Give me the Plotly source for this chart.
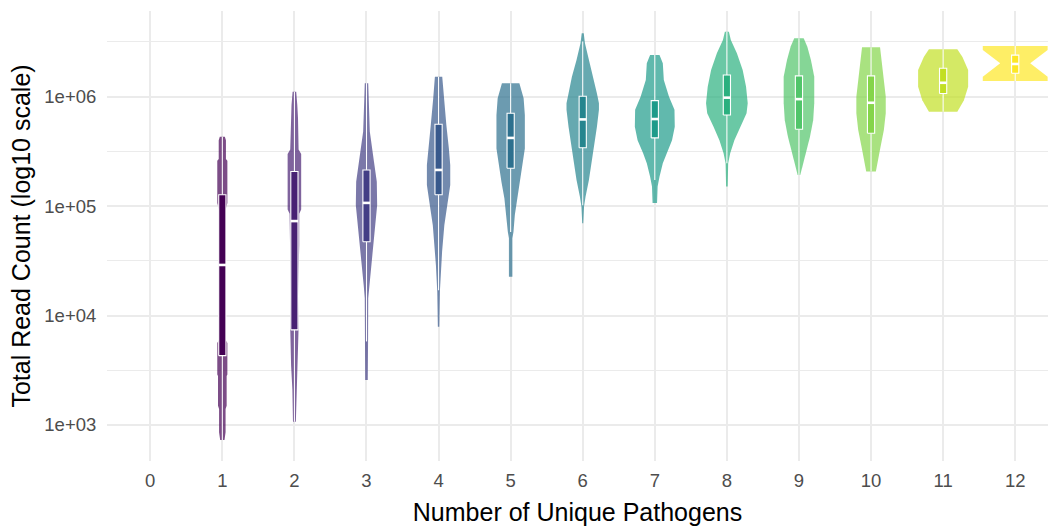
import plotly.graph_objects as go

# ---------------- data ----------------
x_categories = list(range(0, 13))
groups = list(range(1, 13))
colors = ["#440154", "#482173", "#433E85", "#38598C", "#2D708E", "#25858E",
          "#1E9B8A", "#2BB07F", "#51C56A", "#85D54A", "#C2DF23", "#FDE725"]

q1_vals = [4.3e3, 7.4e3, 4.73e4, 1.27e5, 2.22e5, 3.42e5, 4.2e5, 6.8e5, 5.04e5, 4.63e5, 1.07e6, 1.64e6]
median_vals = [2.9e4, 7.3e4, 1.07e5, 2.14e5, 4.2e5, 6.2e5, 6.25e5, 9.8e5, 9.5e5, 8.8e5, 1.34e6, 1.99e6]
q3_vals = [1.27e5, 2.07e5, 2.14e5, 5.6e5, 7.05e5, 1.01e6, 9.2e5, 1.58e6, 1.55e6, 1.55e6, 1.82e6, 2.4e6]
whisker_low = [7.3e2, 1.07e3, 5.8e3, 1.7e4, 5.8e4, 1.02e5, 1.73e5, 2.46e5, 1.92e5, 2.07e5, 7.3e5, 1.39e6]
whisker_high = [4.3e5, 1.11e6, 1.33e6, 1.52e6, 1.33e6, 3.2e6, 2.4e6, 3.93e6, 3.42e6, 2.83e6, 2.71e6, 2.9e6]

# violin density profiles: read-count levels and half-widths (category units)
violin_levels = {
    1: [7.3e2, 8.6e2, 1.4e3, 1.5e3, 2.8e3, 2.9e3, 5.6e3, 6.0e3, 9.2e4, 1.07e5, 2.6e5, 2.7e5, 4.0e5, 4.3e5],
    2: [1.07e3, 2.1e3, 3.5e3, 7.7e3, 1.5e4, 4.4e4, 8.5e4, 9.3e4, 3.0e5, 3.3e5, 6.35e5, 8.4e5, 1.11e6],
    3: [2.58e3, 5.8e3, 1.44e4, 1.9e4, 2.52e4, 3.84e4, 6.7e4, 1.02e5, 1.67e5, 2.55e5, 4.8e5, 9.7e5, 1.33e6],
    4: [7.9e3, 1.65e4, 2.9e4, 3.84e4, 6.7e4, 1.02e5, 1.56e5, 2.38e5, 3.37e5, 5.5e5, 9.7e5, 1.52e6],
    5: [2.26e4, 5.1e4, 5.8e4, 8.3e4, 1.18e5, 1.67e5, 2.38e5, 3.37e5, 6.8e5, 9.7e5, 1.33e6],
    6: [6.97e4, 9.9e4, 1.22e5, 1.73e5, 2.46e5, 3.49e5, 5.3e5, 7.6e5, 8.7e5, 1.07e6, 1.52e6, 2.16e6, 3.08e6, 3.8e6],
    7: [1.07e5, 1.51e5, 1.86e5, 2.46e5, 3.04e5, 4.0e5, 5.3e5, 7.6e5, 1.0e6, 1.42e6, 2.02e6, 2.4e6],
    8: [1.51e5, 2.46e5, 3.04e5, 4.0e5, 5.3e5, 7.05e5, 8.7e5, 1.23e6, 1.75e6, 2.49e6, 3.3e6, 3.93e6],
    9: [1.92e5, 2.29e5, 3.04e5, 4.3e5, 6.1e5, 8.7e5, 1.52e6, 2.16e6, 2.87e6, 3.42e6],
    10: [2.07e5, 2.46e5, 3.49e5, 4.97e5, 7.05e5, 1.0e6, 1.64e6, 2.83e6],
    11: [7.3e5, 9.3e5, 1.23e6, 1.75e6, 2.32e6, 2.71e6],
    12: [1.39e6, 1.52e6, 2.02e6, 2.67e6, 2.9e6],
}
violin_halfwidths = {
    1: [0.03, 0.045, 0.045, 0.06, 0.06, 0.07, 0.07, 0.045, 0.045, 0.07, 0.07, 0.05, 0.05, 0.035],
    2: [0.02, 0.028, 0.046, 0.058, 0.05, 0.067, 0.067, 0.094, 0.094, 0.058, 0.05, 0.04, 0.025],
    3: [0.018, 0.022, 0.024, 0.039, 0.058, 0.087, 0.121, 0.148, 0.143, 0.104, 0.046, 0.03, 0.024],
    4: [0.01, 0.018, 0.037, 0.049, 0.08, 0.121, 0.162, 0.162, 0.143, 0.108, 0.074, 0.051],
    5: [0.024, 0.024, 0.039, 0.058, 0.087, 0.128, 0.162, 0.197, 0.197, 0.18, 0.121],
    6: [0.007, 0.018, 0.039, 0.086, 0.121, 0.157, 0.197, 0.225, 0.225, 0.197, 0.15, 0.086, 0.031, 0.014],
    7: [0.031, 0.039, 0.065, 0.111, 0.162, 0.239, 0.277, 0.273, 0.197, 0.125, 0.111, 0.065],
    8: [0.011, 0.018, 0.046, 0.104, 0.185, 0.273, 0.289, 0.266, 0.219, 0.139, 0.055, 0.028],
    9: [0.018, 0.046, 0.093, 0.153, 0.197, 0.212, 0.212, 0.166, 0.115, 0.065],
    10: [0.067, 0.086, 0.132, 0.178, 0.204, 0.204, 0.169, 0.125],
    11: [0.197, 0.289, 0.347, 0.347, 0.266, 0.197],
    12: [0.45, 0.45, 0.208, 0.45, 0.45],
}

y_tick_vals = [1e3, 1e4, 1e5, 1e6]
y_tick_text = ["1e+03", "1e+04", "1e+05", "1e+06"]
y_minor_vals = [3.16228e3, 3.16228e4, 3.16228e5, 3.16228e6]

BOX_HALF = 0.05


def rgba(hex_color, alpha):
    h = hex_color.lstrip("#")
    r, g, b = int(h[0:2], 16), int(h[2:4], 16), int(h[4:6], 16)
    return f"rgba({r},{g},{b},{alpha})"


fig = go.Figure()

for i, g in enumerate(groups):
    # violin body
    lv = violin_levels[g]
    hw = violin_halfwidths[g]
    xs = [g - w for w in hw] + [g + w for w in reversed(hw)]
    ys = lv + list(reversed(lv))
    fig.add_trace(go.Scatter(
        x=xs, y=ys, mode="lines", fill="toself",
        fillcolor=rgba(colors[i], 0.7), line=dict(width=0),
        hoverinfo="skip", showlegend=False,
    ))

for i, g in enumerate(groups):
    # whiskers
    fig.add_trace(go.Scatter(
        x=[g, g, None, g, g],
        y=[whisker_low[i], q1_vals[i], None, q3_vals[i], whisker_high[i]],
        mode="lines", line=dict(color="white", width=1.1),
        hoverinfo="skip", showlegend=False,
    ))
    # box (q1..q3)
    fig.add_trace(go.Scatter(
        x=[g - BOX_HALF, g + BOX_HALF, g + BOX_HALF, g - BOX_HALF, g - BOX_HALF],
        y=[q1_vals[i], q1_vals[i], q3_vals[i], q3_vals[i], q1_vals[i]],
        mode="lines", fill="toself", fillcolor=colors[i],
        line=dict(color="white", width=1.1),
        hoverinfo="skip", showlegend=False,
    ))
    # median bar
    fig.add_trace(go.Scatter(
        x=[g - BOX_HALF, g + BOX_HALF],
        y=[median_vals[i], median_vals[i]],
        mode="lines", line=dict(color="white", width=2.6),
        hoverinfo="skip", showlegend=False,
    ))

font_family = "Liberation Sans, Arial, sans-serif"
grid_col = "#EBEBEB"

fig.update_layout(
    width=1048, height=529,
    margin=dict(l=107, r=0, t=11, b=68),
    paper_bgcolor="white", plot_bgcolor="white",
    font=dict(family=font_family),
    showlegend=False,
    xaxis=dict(
        type="linear", range=[-0.6, 12.455],
        tickmode="array", tickvals=x_categories,
        ticktext=[str(v) for v in x_categories],
        showgrid=True, gridcolor=grid_col, gridwidth=2.1,
        zeroline=False, showline=False,
        ticks="outside", ticklen=3, tickcolor="rgba(0,0,0,0)",
        tickfont=dict(size=18.5, color="#4D4D4D", family=font_family),
        title=dict(text="Number of Unique Pathogens", standoff=13,
                   font=dict(size=25, color="black", family=font_family)),
    ),
    yaxis=dict(
        type="log", range=[2.671, 6.783],
        tickmode="array", tickvals=y_tick_vals, ticktext=y_tick_text,
        showgrid=True, gridcolor=grid_col, gridwidth=2.1,
        minor=dict(tickmode="array", tickvals=y_minor_vals, showgrid=True,
                   gridcolor=grid_col, gridwidth=1.1, ticks=""),
        zeroline=False, showline=False,
        ticks="outside", ticklen=6, tickcolor="rgba(0,0,0,0)",
        tickfont=dict(size=18.5, color="#4D4D4D", family=font_family),
        title=dict(text="Total Read Count (log10 scale)", standoff=6,
                   font=dict(size=25, color="black", family=font_family)),
    ),
)

fig.write_html("out.html")
